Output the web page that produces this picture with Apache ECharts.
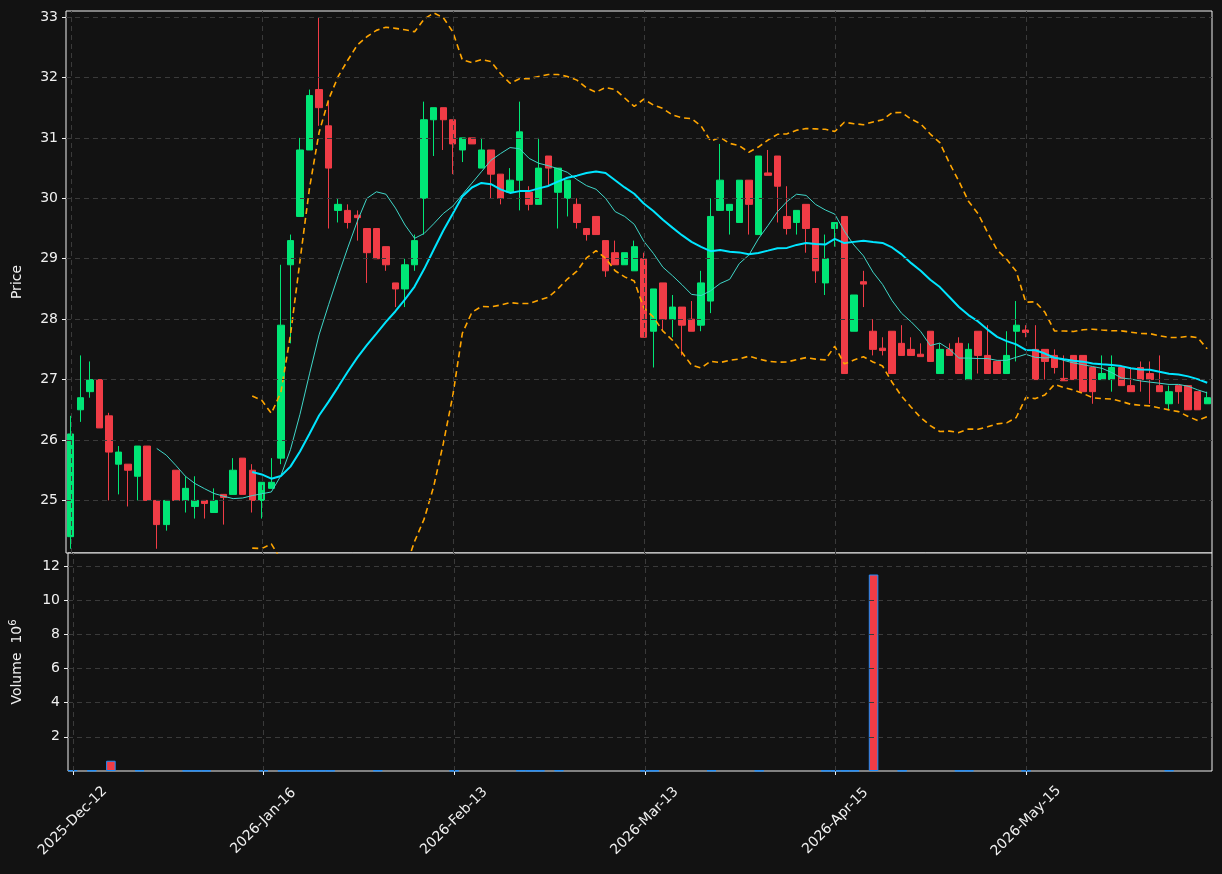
<!DOCTYPE html>
<html><head><meta charset="utf-8">
<script src="https://cdn.jsdelivr.net/npm/echarts@6/dist/echarts.min.js"></script>
<style>html,body{margin:0;padding:0;background:#121212}#c{width:1222px;height:874px}</style>
</head><body><div id="c"></div>
<script>
// OHLC per candle: [open, close, low, high]
const ohlc = [
[24.4,26.1,24.2,26.4],[26.5,26.7,26.3,27.4],[26.8,27.0,26.7,27.3],[27.0,26.2,26.2,27.0],[26.4,25.8,25.0,26.45],
[25.6,25.8,25.1,25.9],[25.6,25.5,24.9,25.6],[25.4,25.9,25.0,25.9],[25.9,25.0,25.0,25.9],[25.0,24.6,24.2,25.0],
[24.6,25.0,24.5,25.0],[25.5,25.0,25.0,25.5],[25.0,25.2,24.8,25.4],[24.9,25.0,24.7,25.4],[25.0,24.95,24.7,25.0],
[24.8,25.0,24.8,25.2],[25.1,25.05,24.6,25.1],[25.1,25.5,25.1,25.7],[25.7,25.1,25.1,25.7],[25.5,25.0,24.8,25.6],
[25.0,25.3,24.7,25.3],[25.2,25.3,25.2,25.7],[25.7,27.9,25.6,28.9],[28.9,29.3,27.6,29.4],[29.7,30.8,29.7,31.0],
[30.8,31.7,30.8,31.8],[31.8,31.5,31.2,33.0],[31.2,30.5,29.5,31.6],[29.8,29.9,29.6,30.0],[29.8,29.6,29.5,29.9],
[29.72,29.68,29.3,29.8],[29.5,29.1,28.6,29.5],[29.5,29.0,29.0,29.5],[29.2,28.9,28.8,29.2],[28.6,28.5,28.2,28.6],
[28.5,28.9,28.2,29.0],[28.9,29.3,28.8,29.4],[30.0,31.3,29.4,31.6],[31.3,31.5,30.7,31.5],[31.5,31.3,30.8,31.5],
[31.3,30.9,30.4,31.3],[30.8,31.0,30.6,31.0],[31.0,30.9,30.9,31.0],[30.5,30.8,30.5,31.0],[30.8,30.4,30.0,30.8],
[30.4,30.0,29.9,30.4],[30.1,30.3,30.1,30.5],[30.3,31.1,29.8,31.6],[30.1,29.9,29.8,30.2],[29.9,30.5,29.9,31.0],
[30.7,30.5,30.2,30.7],[30.1,30.5,29.5,30.5],[30.0,30.3,29.7,30.3],[29.9,29.6,29.5,30.0],[29.5,29.4,29.3,29.5],
[29.7,29.4,29.4,29.7],[29.3,28.8,28.7,29.3],[29.1,28.9,28.9,29.3],[28.9,29.1,28.9,29.1],[28.8,29.2,28.8,29.3],
[29.0,27.7,27.7,29.1],[27.8,28.5,27.2,28.5],[28.6,28.0,27.8,28.6],[28.0,28.2,27.7,28.4],[28.2,27.9,27.4,28.2],
[28.0,27.8,27.8,28.3],[27.9,28.6,27.8,28.8],[28.3,29.7,28.1,30.0],[29.8,30.3,29.8,30.9],[29.8,29.9,29.4,29.9],
[29.6,30.3,29.6,30.3],[30.3,29.9,29.4,30.3],[29.4,30.7,29.4,30.7],[30.42,30.38,30.38,30.8],[30.7,30.2,29.6,30.7],
[29.7,29.5,29.4,30.2],[29.6,29.8,29.4,29.8],[29.9,29.5,29.1,29.9],[29.5,28.8,28.6,29.5],[28.6,29.0,28.4,29.4],
[29.5,29.6,29.2,29.6],[29.7,27.1,27.1,29.7],[27.8,28.4,27.8,28.4],[28.62,28.58,28.2,28.8],[27.8,27.5,27.4,28.0],
[27.52,27.48,27.4,27.7],[27.8,27.1,27.1,27.8],[27.6,27.4,27.4,27.9],[27.5,27.4,27.4,27.7],[27.42,27.38,27.38,27.6],
[27.8,27.3,27.3,27.8],[27.1,27.5,27.1,27.6],[27.5,27.4,27.4,27.6],[27.6,27.1,27.1,27.7],[27.0,27.5,27.0,27.6],
[27.8,27.4,27.1,27.8],[27.4,27.1,27.1,27.9],[27.3,27.1,27.1,27.3],[27.1,27.4,27.1,27.8],[27.8,27.9,27.3,28.3],
[27.82,27.78,27.7,27.9],[27.5,27.0,27.0,27.9],[27.5,27.3,27.0,27.5],[27.4,27.2,27.1,27.5],[27.02,26.98,26.98,27.4],
[27.4,27.0,27.0,27.4],[27.4,26.8,26.8,27.4],[27.2,26.8,26.6,27.2],[27.0,27.1,27.0,27.4],[27.0,27.2,26.8,27.4],
[27.2,26.9,26.9,27.2],[26.9,26.8,26.8,27.2],[27.2,27.0,26.8,27.3],[27.1,27.0,26.6,27.3],[26.9,26.8,26.8,27.4],
[26.6,26.8,26.5,26.9],[26.9,26.8,26.6,26.9],[26.9,26.5,26.5,26.9],[26.8,26.5,26.5,26.8],[26.6,26.7,26.6,26.8]
];
// volume in millions
const volume = [
0.04,0,0.03,0,0.6,0,0,0.03,0,0,0,0,0.02,0.02,0.02,0,0,0,0,0,
0.03,0,0.02,0.02,0.02,0.02,0.02,0.02,0,0,0,0,0.03,0,0,0,0,0,0,0,
0.02,0,0,0,0,0,0,0.03,0.02,0.02,0,0.03,0,0,0,0,0,0,0,0,
0.02,0.02,0,0,0,0,0,0.03,0,0,0,0,0.02,0,0,0,0,0,0,0.02,
0.02,0.02,0.02,0,11.5,0,0,0.02,0,0,0,0,0,0.02,0.02,0,0,0,0,0,
0.02,0,0,0,0,0,0,0,0,0,0,0,0,0,0,0.03,0,0,0,0
];
const tickDates = ['2025-12-12','2026-01-16','2026-02-13','2026-03-13','2026-04-15','2026-05-15'];
const priceTicks = [25,26,27,28,29,30,31,32,33];
const volTicks = [2,4,6,8,10,12];

const MON=['Jan','Feb','Mar','Apr','May','Jun','Jul','Aug','Sep','Oct','Nov','Dec'];
function fmt(d){return d.getUTCFullYear()+'-'+MON[d.getUTCMonth()]+'-'+String(d.getUTCDate()).padStart(2,'0');}
const dates=[];
for(let i=0;i<ohlc.length;i++){
  const a=Math.min(Math.floor(i/20),tickDates.length-2);
  const t0=Date.parse(tickDates[a]), t1=Date.parse(tickDates[a+1]);
  dates.push(fmt(new Date(t0+Math.round((t1-t0)/864e5*(i-a*20)/20)*864e5)));
}
const closes=ohlc.map(r=>r[1]);
function ma(n){return closes.map((_,i)=>{if(i<n-1)return '-';let s=0;for(let j=i-n+1;j<=i;j++)s+=closes[j];return +(s/n).toFixed(4);});}
const ma10=ma(10), ma20=ma(20);
const up=[],lo=[];
closes.forEach((_,i)=>{if(i<19){up.push('-');lo.push('-');return;}
  const m=ma20[i];let v=0;for(let j=i-19;j<=i;j++)v+=(closes[j]-m)**2;const sd=Math.sqrt(v/20);
  up.push(+(m+2*sd).toFixed(4));lo.push(+(m-2*sd).toFixed(4));});
const UPC='#00e676', DNC='#f03c46';
const vlines = tickDates.map((_,k)=>({xAxis:k*20}));
const ml = {symbol:'none',silent:true,label:{show:false},lineStyle:{color:'#3a3a3a',type:[5,4],width:1},data:vlines};
const txt='#f0f0f0';
const chart=echarts.init(document.getElementById('c'));
chart.setOption({
  backgroundColor:'#121212',animation:false,
  textStyle:{fontFamily:'DejaVu Sans'},
  grid:[{left:66,right:10,top:11,height:542,show:true,borderColor:'#f0f0f0',borderWidth:1,backgroundColor:'#121212'},
        {left:66,right:10,top:553,height:218,show:true,borderColor:'#f0f0f0',borderWidth:1,backgroundColor:'#121212'}],
  xAxis:[
    {type:'category',gridIndex:0,data:dates,boundaryGap:true,axisLine:{show:false},axisTick:{show:false},axisLabel:{show:false},splitLine:{show:false}},
    {type:'category',gridIndex:1,data:dates,boundaryGap:true,axisLine:{show:false},
     axisTick:{show:true,alignWithLabel:true,interval:i=>i%20===0,lineStyle:{color:'#f0f0f0'},length:4},
     axisLabel:{interval:i=>i%20===0,rotate:45,color:txt,fontSize:14,margin:50,align:'center',verticalAlign:'middle'},splitLine:{show:false}}
  ],
  yAxis:[
    {type:'value',gridIndex:0,min:24.13,max:33.1,name:'Price',nameLocation:'middle',nameGap:42,nameTextStyle:{color:txt,fontSize:14},
     axisLine:{show:false},axisTick:{show:true,customValues:priceTicks,lineStyle:{color:'#f0f0f0'},length:4},
     axisLabel:{customValues:priceTicks,color:txt,fontSize:14,margin:8},
     splitLine:{show:false}},
    {type:'value',gridIndex:1,min:0,max:12.76,name:'Volume  10{s|6}',nameLocation:'middle',nameGap:42,
     nameTextStyle:{color:txt,fontSize:14,rich:{s:{fontSize:10,verticalAlign:'top',padding:[0,0,8,0],color:txt}}},
     axisLine:{show:false},axisTick:{show:true,customValues:volTicks,lineStyle:{color:'#f0f0f0'},length:4},
     axisLabel:{customValues:volTicks,color:txt,fontSize:14,margin:8},splitLine:{show:false}}
  ],
  series:[
    {type:'line',xAxisIndex:0,yAxisIndex:0,data:[],markLine:{symbol:'none',silent:true,label:{show:false},lineStyle:{color:'#3a3a3a',type:[5,4],width:1},data:priceTicks.map(v=>({yAxis:v}))}},
    {type:'line',xAxisIndex:1,yAxisIndex:1,data:[],markLine:{symbol:'none',silent:true,label:{show:false},lineStyle:{color:'#3a3a3a',type:[5,4],width:1},data:volTicks.map(v=>({yAxis:v})).concat(vlines)}},
    {type:'candlestick',xAxisIndex:0,yAxisIndex:0,data:ohlc,barWidth:'72%',
     itemStyle:{color:UPC,color0:DNC,borderColor:UPC,borderColor0:DNC,borderWidth:1},markLine:ml},
    {type:'line',data:ma10,symbol:'none',lineStyle:{color:'#3fd6c8',width:1},z:3},
    {type:'line',data:ma20,symbol:'none',lineStyle:{color:'#00e5ff',width:2},z:3},
    {type:'line',data:up,symbol:'none',lineStyle:{color:'#ffa500',width:1.6,type:[6,4]},z:3},
    {type:'line',data:lo,symbol:'none',lineStyle:{color:'#ffa500',width:1.6,type:[6,4]},z:3},
    {type:'bar',xAxisIndex:1,yAxisIndex:1,barWidth:'100%',
     data:volume.map((v,i)=>({value:v,itemStyle:{color:ohlc[i][1]>=ohlc[i][0]?UPC:DNC,borderColor:'#1e90ff',borderWidth:v>0?1:0}}))}
  ]
});
</script></body></html>
